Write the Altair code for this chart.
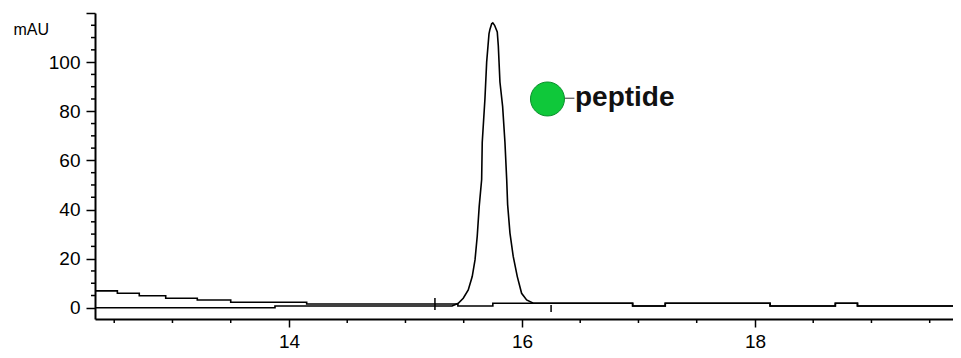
import altair as alt
import pandas as pd

# ---- data ----
# trace A (step-like baseline trace)
time_a = [12.33, 12.527, 12.715, 12.942, 13.213, 13.500, 14.152, 15.45, 15.75, 16.95, 17.23, 18.13, 18.69, 18.88, 19.76]
mau_a = [6.87, 5.9, 4.9, 3.9, 3.2, 2.25, 1.55, 0.74, 1.84, 0.74, 1.84, 0.74, 1.84, 0.74, 0.74]

# trace B (chromatogram with the peptide peak)
time_b = [12.33, 13.88, 13.88, 15.40, 15.453, 15.496, 15.539, 15.573, 15.597, 15.616, 15.633, 15.654,
          15.659, 15.682, 15.697, 15.717, 15.725, 15.740, 15.750, 15.765, 15.788, 15.797, 15.811,
          15.834, 15.854, 15.869, 15.877, 15.897, 15.925, 15.960, 15.997, 16.040, 16.097,
          16.95, 16.95, 17.23, 17.23, 18.13, 18.13, 18.69, 18.69, 18.88, 18.88, 19.76]
mau_b = [0.0, 0.0, 0.74, 0.74, 1.84, 3.9, 7.3, 12.7, 19.5, 29.1, 41.3, 52.2,
         67.3, 84.9, 100.0, 111.5, 113.3, 115.6, 116.0, 115.0, 112.3, 106.6, 91.9,
         82.0, 67.3, 52.2, 42.0, 30.4, 20.9, 12.7, 5.9, 3.2, 1.84,
         1.84, 0.74, 0.74, 1.84, 1.84, 0.74, 0.74, 1.84, 1.84, 0.74, 0.74]

# integration markers
marker_time = [15.253, 16.25]
marker_top = [4.0, 1.1]
marker_bottom = [-0.9, -1.7]

# annotation
label_text = ["peptide"]
label_time = [16.455]
label_mau = [82.2]
dot_time = [16.219]
dot_mau = [85.0]
link_start = [16.365]
link_end = [16.45]
link_mau = [85.3]

# axes
x_domain = [12.335, 19.70]
y_domain = [-4.56, 120]
x_major = [14, 16, 18]
x_minor = [12.5, 13, 13.5, 14.5, 15, 15.5, 16.5, 17, 17.5, 18.5, 19, 19.5]
y_major = [0, 20, 40, 60, 80, 100, 120]
y_minor = [5, 10, 15, 25, 30, 35, 45, 50, 55, 65, 70, 75, 85, 90, 95, 105, 110, 115]

FONT = "Liberation Sans"
W, H = 858, 306

df_a = pd.DataFrame({"t": time_a, "v": mau_a})
df_b = pd.DataFrame({"t": time_b, "v": mau_b, "o": list(range(len(time_b)))})
df_m = pd.DataFrame({"t": marker_time, "v": marker_top, "v2": marker_bottom})
df_l = pd.DataFrame({"t": label_time, "v": label_mau, "txt": label_text})
df_d = pd.DataFrame({"t": dot_time, "v": dot_mau})
df_k = pd.DataFrame({"t": link_start, "t2": link_end, "v": link_mau})
df_xm = pd.DataFrame({"t": x_minor})
df_ym = pd.DataFrame({"v": y_minor})

xs = alt.Scale(domain=x_domain, nice=False, zero=False)
ys = alt.Scale(domain=y_domain, nice=False, zero=False)

x_axis = alt.Axis(
    values=x_major,
    format="d",
    tickSize=8,
    labelPadding=5,
    labelFontSize=19,
    labelFont=FONT,
    labelColor="black",
    domainColor="black",
    domainWidth=2,
    tickColor="black",
    tickWidth=1.5,
    grid=False,
    title="",
    labelFlush=False,
    labelOverlap=False,
)
y_axis = alt.Axis(
    values=y_major,
    labelExpr="datum.value < 120 ? datum.label : ''",
    tickSize=9,
    labelPadding=6,
    labelFontSize=19,
    labelFont=FONT,
    labelColor="black",
    domainColor="black",
    domainWidth=2,
    tickColor="black",
    tickWidth=1.5,
    grid=False,
    title="mAU",
    titleAngle=0,
    titleX=-82,
    titleY=16,
    titleAlign="left",
    titleBaseline="middle",
    titleFont=FONT,
    titleFontSize=16,
    titleFontWeight="normal",
    titleColor="black",
    labelFlush=False,
    labelOverlap=False,
)

line_a = alt.Chart(df_a).mark_line(color="black", strokeWidth=1.6, interpolate="step-after", clip=True).encode(
    x=alt.X("t:Q", scale=xs, axis=x_axis),
    y=alt.Y("v:Q", scale=ys, axis=y_axis),
)
line_b = alt.Chart(df_b).mark_line(color="black", strokeWidth=1.6, clip=True).encode(
    x=alt.X("t:Q", scale=xs),
    y=alt.Y("v:Q", scale=ys),
    order="o:Q",
)
x_minor_ticks = alt.Chart(df_xm).mark_rule(color="black", strokeWidth=1.5).encode(
    x=alt.X("t:Q", scale=xs),
    y=alt.value(H),
    y2=alt.value(H + 4),
)
y_minor_ticks = alt.Chart(df_ym).mark_rule(color="black", strokeWidth=1.5).encode(
    y=alt.Y("v:Q", scale=ys),
    x=alt.value(-4),
    x2=alt.value(0),
)
markers = alt.Chart(df_m).mark_rule(color="black", strokeWidth=1.5).encode(
    x=alt.X("t:Q", scale=xs),
    y=alt.Y("v:Q", scale=ys),
    y2="v2:Q",
)
link = alt.Chart(df_k).mark_rule(color="#555555", strokeWidth=1.2).encode(
    x=alt.X("t:Q", scale=xs),
    x2="t2:Q",
    y=alt.Y("v:Q", scale=ys),
)
dot = alt.Chart(df_d).mark_point(shape="circle", filled=True, size=1156, color="#0FC83A",
                                 stroke="#0B8F2C", strokeWidth=1, opacity=1).encode(
    x=alt.X("t:Q", scale=xs),
    y=alt.Y("v:Q", scale=ys),
)
label = alt.Chart(df_l).mark_text(align="left", baseline="alphabetic", font=FONT, fontSize=28,
                                  fontWeight="bold", color="#111111").encode(
    x=alt.X("t:Q", scale=xs),
    y=alt.Y("v:Q", scale=ys),
    text="txt:N",
)

chart = alt.layer(line_a, line_b, x_minor_ticks, y_minor_ticks, markers, link, dot, label).properties(
    width=W,
    height=H,
    autosize=alt.AutoSizeParams(type="none"),
    padding={"left": 87, "top": 5, "right": 0, "bottom": 31},
    background="white",
).configure_view(stroke=None)

chart.save("out.html", embed_options={"renderer": "svg", "actions": False})
